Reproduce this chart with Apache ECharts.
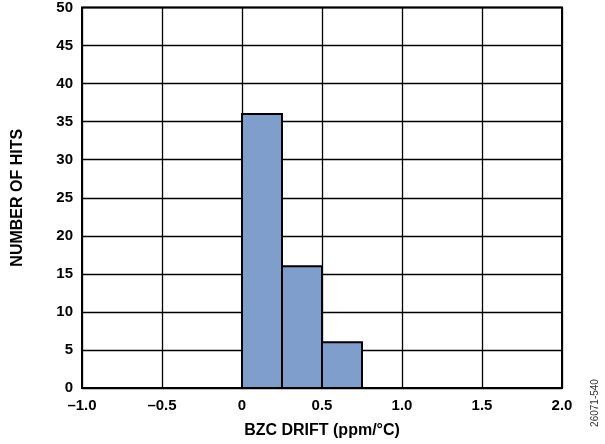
<!DOCTYPE html>
<html><head><meta charset="utf-8">
<script src="https://cdn.jsdelivr.net/npm/echarts@6/dist/echarts.min.js"></script>
<style>html,body{margin:0;padding:0;background:#fff}#c{width:605px;height:444px}</style>
</head><body><div id="c"></div>
<script>
var binStarts = [0, 0.25, 0.5];
var binEnds = [0.25, 0.5, 0.75];
var hits = [36, 16, 6];
var xTicks = [-1.0, -0.5, 0, 0.5, 1.0, 1.5, 2.0];
var yTicks = [0, 5, 10, 15, 20, 25, 30, 35, 40, 45, 50];

var data = binStarts.map(function (s, i) { return [s, binEnds[i], hits[i]]; });
var chart = echarts.init(document.getElementById('c'), null, {renderer: 'canvas'});
var font = '"Liberation Sans", Arial, sans-serif';
chart.setOption({
  animation: false,
  grid: {left: 82, right: 43, top: 5, bottom: 55, show: true, borderColor: '#000', borderWidth: 2, backgroundColor: '#fff'},
  xAxis: {
    type: 'value', min: xTicks[0], max: xTicks[xTicks.length - 1], interval: 0.5,
    axisLine: {show: false}, axisTick: {show: false},
    splitLine: {show: true, lineStyle: {color: '#000', width: 1.3}},
    axisLabel: {color: '#000', fontFamily: font, fontWeight: 'bold', fontSize: 15, margin: 10,
      formatter: function (v) { var s = (v === 0) ? '0' : v.toFixed(1); return s.replace('-', '\u2013'); }},
    name: 'BZC DRIFT (ppm/°C)', nameLocation: 'middle', nameGap: 35,
    nameTextStyle: {color: '#000', fontFamily: font, fontWeight: 'bold', fontSize: 16}
  },
  yAxis: {
    type: 'value', min: yTicks[0], max: yTicks[yTicks.length - 1], interval: 5,
    axisLine: {show: false}, axisTick: {show: false},
    splitLine: {show: true, lineStyle: {color: '#000', width: 1.3}},
    axisLabel: {color: '#000', fontFamily: font, fontWeight: 'bold', fontSize: 15, margin: 9},
    name: 'NUMBER OF HITS', nameLocation: 'middle', nameGap: 56, nameRotate: 90,
    nameTextStyle: {color: '#000', fontFamily: font, fontWeight: 'bold', fontSize: 16}
  },
  series: [{
    type: 'custom',
    data: data,
    encode: {x: [0, 1], y: 2},
    renderItem: function (params, api) {
      var p0 = api.coord([api.value(0), 0]);
      var p1 = api.coord([api.value(1), api.value(2)]);
      return {
        type: 'rect',
        shape: {x: p0[0], y: p1[1], width: p1[0] - p0[0], height: p0[1] - p1[1]},
        style: {fill: '#7f9ecb', stroke: '#000', lineWidth: 2}
      };
    }
  }],
  graphic: [{
    type: 'text', x: 595, y: 403, rotation: Math.PI / 2,
    style: {text: '26071-540', fill: '#333', font: '10px ' + font, align: 'center', verticalAlign: 'middle'}
  }]
});
</script></body></html>
